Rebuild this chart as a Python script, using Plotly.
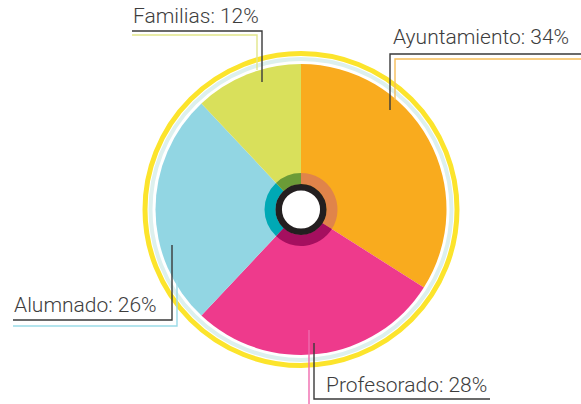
import plotly.graph_objects as go

# ---- data ----
categories = ["Ayuntamiento", "Profesorado", "Alumnado", "Familias"]
values = [34, 28, 26, 12]
main_colors = ["#F9AB1E", "#EE3A8C", "#92D6E3", "#D9E05B"]
inner_colors = ["#E0844A", "#A50F5F", "#00A9B5", "#6B9B37"]
label_texts = [f"{c}: {v}%" for c, v in zip(categories, values)]
accent_colors = ["#F7BE5A", "#F06AAE", "#9ADBE8", "#E2E68A"]

W, H = 581, 404
CX, CY = 301, 209.5
R_MAIN = 145.5
R_INNER = 36.5


def px(x):
    return x / W


def py(y):
    return 1 - y / H


def dom(r):
    return dict(x=[px(CX - r), px(CX + r)], y=[py(CY + r), py(CY - r)])


fig = go.Figure()
fig.add_trace(go.Pie(
    labels=categories, values=values, sort=False, direction="clockwise",
    rotation=0, marker=dict(colors=main_colors, line=dict(width=0)),
    textinfo="none", hoverinfo="label+percent", domain=dom(R_MAIN),
    showlegend=False,
))
fig.add_trace(go.Pie(
    labels=categories, values=values, sort=False, direction="clockwise",
    rotation=0, hole=25.5 / R_INNER,
    marker=dict(colors=inner_colors, line=dict(width=0)),
    textinfo="none", hoverinfo="label+percent", domain=dom(R_INNER),
    showlegend=False,
))

shapes = []


def circle(r, color, width, layer="below", fill=None):
    shapes.append(dict(
        type="circle", xref="paper", yref="paper",
        x0=px(CX - r), x1=px(CX + r), y0=py(CY + r), y1=py(CY - r),
        line=dict(color=color, width=width),
        fillcolor=fill if fill else "rgba(0,0,0,0)", layer=layer,
    ))


circle(156, "#FCE42C", 5)
circle(150.5, "#DDF0EE", 4)
circle(22.3, "#231F20", 6.5, layer="above", fill="#FFFFFF")


def path(points, color, width=1.4):
    d = "M " + " L ".join(f"{px(x)},{py(y)}" for x, y in points)
    shapes.append(dict(type="path", xref="paper", yref="paper", path=d,
                       line=dict(color=color, width=width), layer="above"))


DARK = "#3A3A3A"
# leader lines (layout decoration): Ayuntamiento, Profesorado, Alumnado, Familias
accent_paths = [
    [(395, 100), (395, 59), (581, 59)],
    [(309, 330), (309, 404)],
    [(177, 280), (177, 326), (13, 326)],
    [(257, 70), (257, 35), (132, 35)],
]
dark_paths = [
    [(390, 110), (390, 54), (581, 54)],
    [(314, 343), (314, 399), (490, 399)],
    [(172, 245), (172, 320), (13, 320)],
    [(262, 82), (262, 31), (132, 31)],
]
for p, c in zip(accent_paths, accent_colors):
    path(p, c)
for p in dark_paths:
    path(p, DARK)

label_pos = [(391, 37), (324, 385), (12, 305), (131, 16)]
annotations = []
for t, (x, y) in zip(label_texts, label_pos):
    annotations.append(dict(
        text=t, x=px(x), y=py(y), xref="paper", yref="paper",
        xanchor="left", yanchor="middle", showarrow=False,
        font=dict(family="Roboto", size=21, color="#3D3D3D", weight=300),
    ))

fig.update_layout(
    width=W, height=H, autosize=False,
    margin=dict(l=0, r=0, t=0, b=0),
    paper_bgcolor="white", plot_bgcolor="white",
    shapes=shapes, annotations=annotations,
)

fig.write_html(
    "out.html",
    config={"displayModeBar": False},
    post_script="document.body.style.margin='0';document.body.style.overflow='hidden';",
)
